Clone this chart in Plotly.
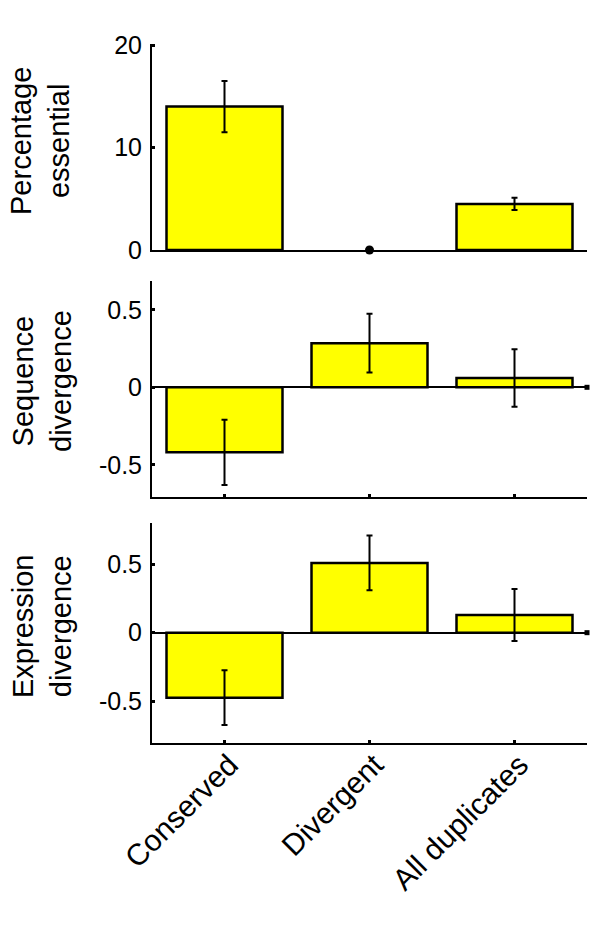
import plotly.graph_objects as go

categories = ["Conserved", "Divergent", "All duplicates"]

pct_essential = [14.0, 0.0, 4.5]
pct_essential_err = [2.5, 0.0, 0.6]

seq_div = [-0.42, 0.285, 0.06]
seq_div_err = [0.21, 0.19, 0.185]

expr_div = [-0.475, 0.51, 0.13]
expr_div_err = [0.20, 0.20, 0.19]

y_titles = ["Percentage<br>essential", "Sequence<br>divergence", "Expression<br>divergence"]

FONT = "Liberation Sans, Arial, sans-serif"
W, H = 600, 951
xpos = list(range(len(categories)))

fig = go.Figure()

panels = [
    (pct_essential, pct_essential_err, "x", "y"),
    (seq_div, seq_div_err, "x2", "y2"),
    (expr_div, expr_div_err, "x3", "y3"),
]
for vals, errs, xa, ya in panels:
    fig.add_trace(go.Bar(
        x=xpos, y=vals, width=0.8,
        marker=dict(color="#FFFF00",
                    line=dict(color="black", width=[2.5 if v != 0 else 0 for v in vals])),
        error_y=dict(type="data", array=errs, color="black", thickness=2, width=3),
        xaxis=xa, yaxis=ya, showlegend=False,
    ))

# zero-valued point marker in the top panel
fig.add_trace(go.Scatter(
    x=[xpos[1]], y=[pct_essential[1]], mode="markers",
    marker=dict(color="black", size=9, symbol="circle"),
    cliponaxis=False, xaxis="x", yaxis="y", showlegend=False,
))
# end-of-zero-line markers in lower panels
for xa, ya in [("x2", "y2"), ("x3", "y3")]:
    fig.add_trace(go.Scatter(
        x=[len(categories) - 0.5], y=[0], mode="markers",
        marker=dict(color="black", size=5, symbol="square"),
        cliponaxis=False, xaxis=xa, yaxis=ya, showlegend=False,
    ))

def px_dom(top, bottom):
    return [1 - bottom / H, 1 - top / H]

xdom = [152 / W, 587 / W]
ydoms = [px_dom(44, 250), px_dom(280.7, 497.3), px_dom(523.3, 743.3)]
yranges = [[0, 20.1], [-0.71, 0.688], [-0.809, 0.80]]
ytickvals = [[0, 10, 20], [-0.5, 0, 0.5], [-0.5, 0, 0.5]]
yticktext = [["0", "10", "20"], ["-0.5", "0", "0.5"], ["-0.5", "0", "0.5"]]

layout = dict(
    width=W, height=H,
    margin=dict(l=0, r=0, t=0, b=0, pad=0, autoexpand=False),
    paper_bgcolor="white", plot_bgcolor="white",
    font=dict(family=FONT, color="black"),
    bargap=0.2,
    showlegend=False,
)

for i in range(3):
    sx = "" if i == 0 else str(i + 1)
    layout["xaxis" + sx] = dict(
        domain=xdom, range=[-0.5, len(categories) - 0.5],
        anchor="y" + sx, automargin=False,
        showline=True, linecolor="black", linewidth=2,
        showgrid=False, zeroline=False,
        tickvals=xpos, ticktext=categories,
        ticks="" if i == 0 else "inside", ticklen=3, tickwidth=3, tickcolor="black",
        showticklabels=(i == 2),
        tickangle=-45,
        ticklabelstandoff=-10, ticklabelshift=5,
        tickfont=dict(size=30, family=FONT, color="black"),
        fixedrange=True,
    )
    layout["yaxis" + sx] = dict(
        domain=ydoms[i], range=yranges[i],
        anchor="x" + sx, automargin=False,
        showline=True, linecolor="black", linewidth=2,
        showgrid=False,
        zeroline=(i > 0), zerolinecolor="black", zerolinewidth=2,
        tickvals=ytickvals[i], ticktext=yticktext[i],
        ticks="inside", ticklen=3, tickwidth=3, tickcolor="black",
        ticklabelstandoff=3,
        tickfont=dict(size=25, family=FONT, color="black"),
        fixedrange=True,
    )

fig.update_layout(**layout)

title_pos = [(40, 141), (42, 381), (42, 627)]
for t, (cx, cy) in zip(y_titles, title_pos):
    fig.add_annotation(
        text=t, xref="paper", yref="paper",
        x=cx / W, y=1 - cy / H, xanchor="center", yanchor="middle",
        textangle=-90, showarrow=False,
        font=dict(size=29, family=FONT, color="black"),
    )

fig.write_html("out.html", config={"displayModeBar": False},
               post_script="document.body.style.margin='0';document.body.style.overflow='hidden';")
